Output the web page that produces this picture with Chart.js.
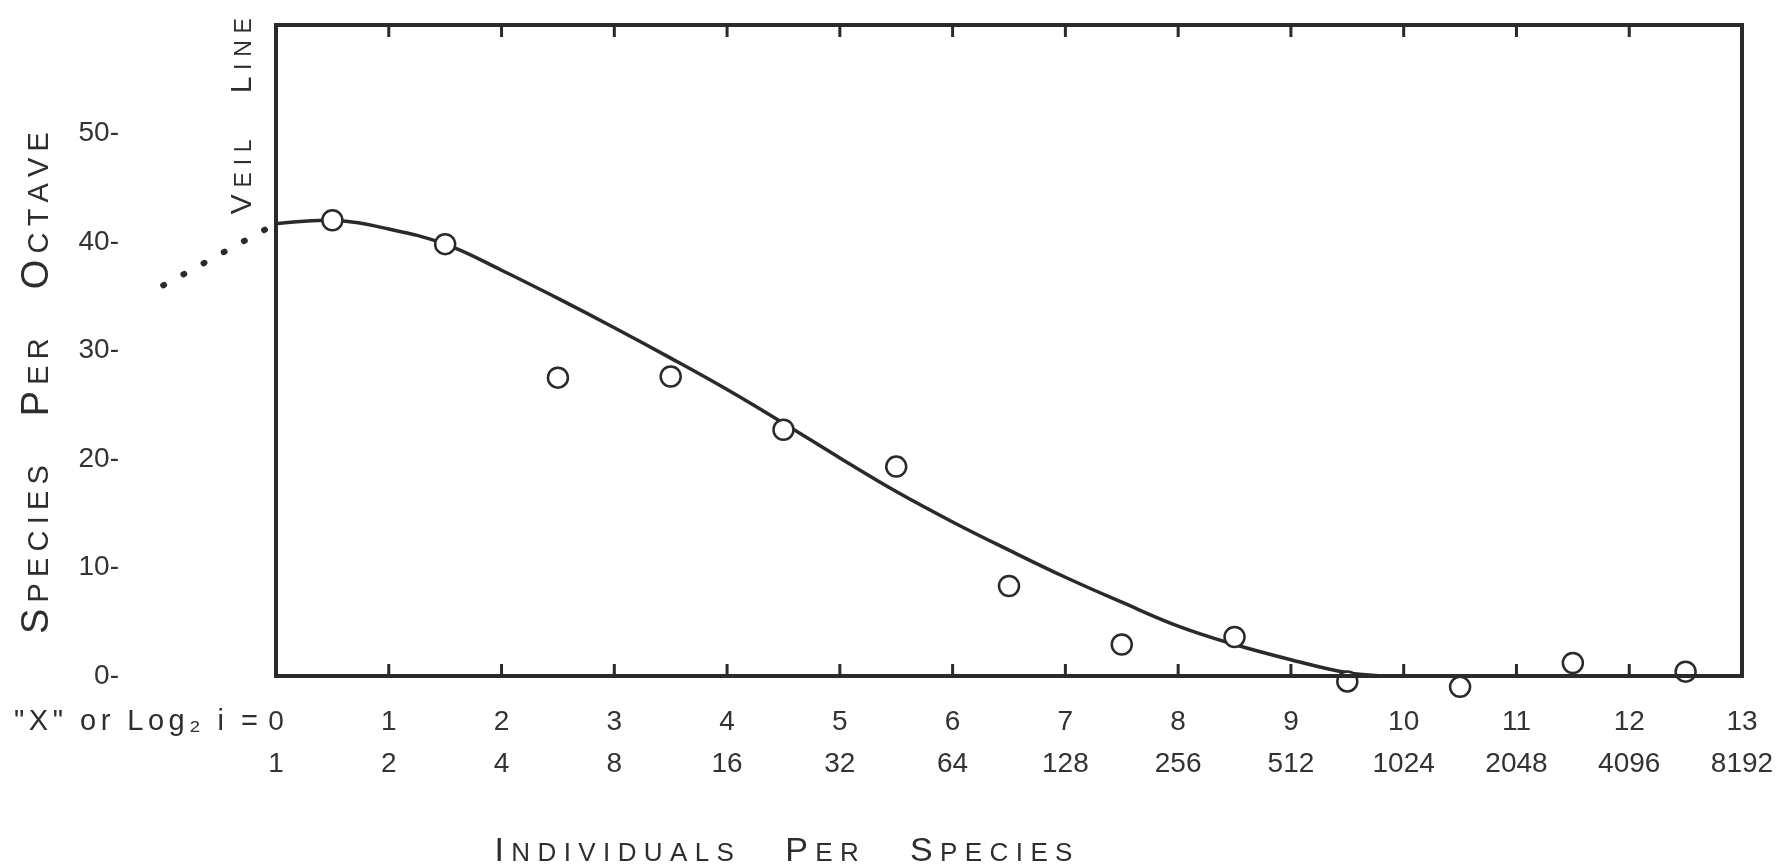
<!DOCTYPE html>
<html>
<head>
<meta charset="utf-8">
<script src="https://cdn.jsdelivr.net/npm/chart.js@4.4.1/dist/chart.umd.min.js"></script>
<style>
html,body{margin:0;padding:0;background:#fff;}
#wrap{width:1779px;height:864px;position:relative;}
</style>
</head>
<body>
<div id="wrap"><canvas id="c" width="1779" height="864"></canvas></div>
<script>
// ---- data ----
const octaveLabels = ['0','1','2','3','4','5','6','7','8','9','10','11','12','13'];
const individualLabels = ['1','2','4','8','16','32','64','128','256','512','1024','2048','4096','8192'];
const yTickValues = [0, 10, 20, 30, 40, 50];

const observedX = [0.5, 1.5, 2.5, 3.5, 4.5, 5.5, 6.5, 7.5, 8.5, 9.5, 10.5, 11.5, 12.5];
const observedY = [42.0, 39.8, 27.5, 27.6, 22.7, 19.3, 8.3, 2.9, 3.6, -0.5, -1.0, 1.2, 0.4];

const curveX = [0, 0.5, 1, 1.5, 2, 2.5, 3, 3.5, 4, 4.5, 5, 5.5, 6, 6.5, 7, 7.5, 8, 8.5, 9, 9.5, 9.8];
const curveY = [41.7, 42.0, 41.2, 39.8, 37.4, 34.8, 32.1, 29.3, 26.4, 23.3, 20.1, 17.0, 14.2, 11.6, 9.1, 6.8, 4.6, 2.9, 1.5, 0.3, 0];

const veilX = [-1.0, 0];
const veilY = [36.0, 41.7];

const xTitle = 'Individuals   Per   Species';
const yTitle = 'Species   Per   Octave';
const veilTitle = 'Veil   Line';
const xPrefix = '"X" or Log\u2082 i =';

const INK = '#2a2a2a';
const FONT = "'Liberation Sans', Arial, sans-serif";

function pts(xs, ys) { return xs.map((x, i) => ({ x: x, y: ys[i] })); }

// small-caps text spread to a target width, centred on the current origin
function drawSmallCaps(ctx, text, capSize, smallSize, target) {
  const parts = [];
  let natural = 0;
  for (const ch of text) {
    const big = ch === ch.toUpperCase() && ch !== ' ';
    const size = big ? capSize : smallSize;
    ctx.font = size + 'px ' + FONT;
    const c = ch.toUpperCase();
    const w = ctx.measureText(c).width;
    parts.push({ c, size, w });
    natural += w;
  }
  const gap = parts.length > 1 ? (target - natural) / (parts.length - 1) : 0;
  let x = -target / 2;
  ctx.textBaseline = 'alphabetic';
  ctx.textAlign = 'left';
  for (const p of parts) {
    ctx.font = p.size + 'px ' + FONT;
    ctx.fillText(p.c, x, capSize * 0.36);
    x += p.w + gap;
  }
}

// plain text spread to a target width, right edge at origin, vertically centred
function drawSpreadRight(ctx, text, size, target) {
  ctx.font = size + 'px ' + FONT;
  const chars = [...text];
  const widths = chars.map(c => ctx.measureText(c).width);
  const natural = widths.reduce((a, b) => a + b, 0);
  const gap = (target - natural) / (chars.length - 1);
  let x = -target;
  ctx.textAlign = 'left';
  ctx.textBaseline = 'middle';
  chars.forEach((c, i) => { ctx.fillText(c, x, 0); x += widths[i] + gap; });
}

const framePlugin = {
  id: 'frame',
  afterDatasetsDraw(chart) {
    const ctx = chart.ctx;
    const a = chart.chartArea;
    const xs = chart.scales.x, ys = chart.scales.y;
    ctx.save();
    ctx.strokeStyle = INK;
    ctx.lineWidth = 4;
    ctx.strokeRect(a.left, a.top, a.right - a.left, a.bottom - a.top);
    // inward tick marks on top and bottom edges
    ctx.lineWidth = 3;
    for (let i = 1; i < octaveLabels.length - 1; i++) {
      const px = xs.getPixelForValue(i);
      ctx.beginPath();
      ctx.moveTo(px, a.bottom); ctx.lineTo(px, a.bottom - 12);
      ctx.moveTo(px, a.top); ctx.lineTo(px, a.top + 12);
      ctx.stroke();
    }
    ctx.fillStyle = '#2e2e2e';
    // prefix before first row of x labels
    ctx.save();
    ctx.translate(xs.getPixelForValue(0) - 18, xs.top + 25 + 21);
    drawSpreadRight(ctx, xPrefix, 29, 244);
    ctx.restore();
    // x title
    ctx.save();
    ctx.translate(xs.getPixelForValue(4.5), 849);
    drawSmallCaps(ctx, xTitle, 34, 26, 578);
    ctx.restore();
    // y title
    ctx.save();
    ctx.translate(34, ys.getPixelForValue(27));
    ctx.rotate(-Math.PI / 2);
    drawSmallCaps(ctx, yTitle, 38, 29, 502);
    ctx.restore();
    // veil line label
    ctx.save();
    ctx.translate(240, ys.getPixelForValue(51.6));
    ctx.rotate(-Math.PI / 2);
    drawSmallCaps(ctx, veilTitle, 30, 23, 196);
    ctx.restore();
    ctx.restore();
  }
};

new Chart(document.getElementById('c'), {
  type: 'scatter',
  data: {
    datasets: [
      {
        label: 'veil',
        data: pts(veilX, veilY),
        showLine: true,
        borderColor: INK,
        borderWidth: 6,
        borderDash: [1, 22],
        borderCapStyle: 'round',
        pointRadius: 0,
        clip: false,
        order: 3
      },
      {
        label: 'curve',
        data: pts(curveX, curveY),
        showLine: true,
        borderColor: INK,
        borderWidth: 3.5,
        pointRadius: 0,
        tension: 0.4,
        order: 2
      },
      {
        label: 'observed',
        data: pts(observedX, observedY),
        pointRadius: 10,
        pointBorderWidth: 2.5,
        pointBorderColor: INK,
        pointBackgroundColor: '#ffffff',
        clip: false,
        order: 1
      }
    ]
  },
  options: {
    responsive: false,
    animation: false,
    events: [],
    layout: { padding: { top: 25, right: 37, left: 0, bottom: 0 } },
    plugins: { legend: { display: false }, tooltip: { enabled: false } },
    scales: {
      x: {
        type: 'linear',
        min: 0,
        max: 13,
        afterBuildTicks: s => { s.ticks = octaveLabels.map((_, i) => ({ value: i })); },
        afterFit: s => { s.height = 188; s.paddingLeft = 0; s.paddingRight = 0; },
        grid: { display: false, drawTicks: false },
        border: { display: false },
        ticks: {
          autoSkip: false,
          maxRotation: 0,
          padding: 25,
          color: '#333',
          font: { family: FONT, size: 28, lineHeight: 1.5 },
          callback: (v, i) => [octaveLabels[i], individualLabels[i]]
        }
      },
      y: {
        type: 'linear',
        min: 0,
        max: 60,
        afterBuildTicks: s => { s.ticks = yTickValues.map(v => ({ value: v })); },
        afterFit: s => { s.width = 276; s.paddingTop = 0; s.paddingBottom = 0; },
        grid: { display: false, drawTicks: false },
        border: { display: false },
        ticks: {
          padding: 157,
          color: '#333',
          font: { family: FONT, size: 28 },
          callback: v => v + '-'
        }
      }
    }
  },
  plugins: [framePlugin]
});
</script>
</body>
</html>
